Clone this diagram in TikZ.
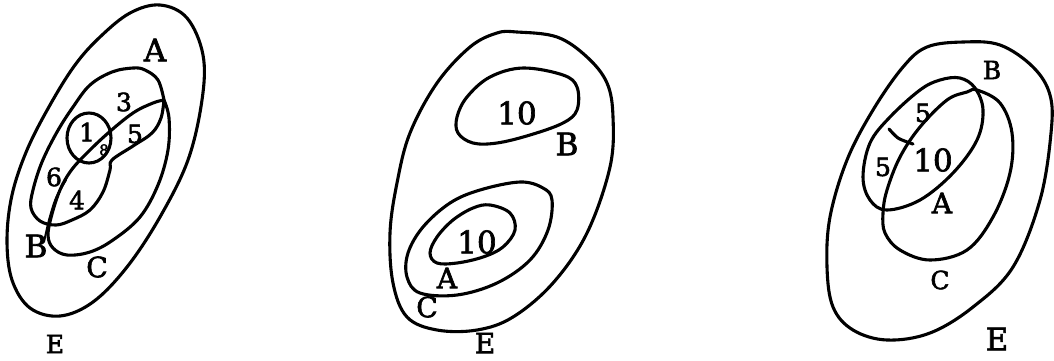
\documentclass[tikz,border=0pt]{standalone}
\usepackage{fontspec}
\setmainfont{DejaVu Serif}[FakeBold=2.2]
\begin{document}
\begin{tikzpicture}[x=1pt,y=-1pt,
  curve/.style={draw=black, line width=3.1pt, line join=round, line cap=round},
  thin/.style={draw=black, line width=2pt, line cap=round},
  lbig/.style={font=\fontsize{31}{31}\selectfont, inner sep=0pt},
  lmid/.style={font=\fontsize{28}{28}\selectfont, inner sep=0pt},
  lsml/.style={font=\fontsize{25}{25}\selectfont, inner sep=0pt}]
\useasboundingbox (0,0) rectangle (1054,360);

% ---------------- left diagram ----------------
\draw[curve] plot[smooth cycle, tension=0.6] coordinates {
  (160,5) (187,18) (203,55) (202,100) (188,160) (160,217) (127,267) (93,302)
  (60,316) (30,308) (12,280) (7,240) (12,195) (27,150) (50,105) (75,65) (100,37) (130,13)};
% A
\draw[curve] plot[smooth, tension=0.6] coordinates {
  (164,100) (158,80) (145,70) (133,68) (112,72) (90,85) (73,107) (57,132) (42,162)
  (33,190) (31,208) (40,221) (56,225) (72,220) (90,210) (103,192) (110,170) (112,160)
  (133,146) (152,133) (161,118) (164,100)};
% C
\draw[curve] plot[smooth, tension=0.6] coordinates {
  (164,100) (169,118) (168,150) (158,185) (140,217) (113,240) (90,252)
  (67,255) (53,248) (48,235) (52,214) (60,190) (70,172) (83,157) (107,134) (133,113)
  (153,103) (164,100)};
% circle
\draw[curve] (89,138) ellipse [x radius=22, y radius=25];
% double line
\draw[thin] plot[smooth] coordinates {(44,242) (49,220) (56,198) (66,180)};

\node[lbig] (lA) at (155,50) {A};
\node[lsml] (l3) at (124,102) {3};
\node[lsml] (l1) at (87,132) {1};
\node[lsml] (l5) at (135,134) {5};
\node[font=\fontsize{15}{15}\selectfont, inner sep=0pt] (l8) at (104,150) {8};
\node[lsml] (l6) at (54,177) {6};
\node[lsml] (l4) at (77,200) {4};
\node[lbig] (lB) at (36,246) {B};
\node[lmid] (lC) at (97,267) {C};
\node[lsml] (lE) at (55,344) {E};

% ---------------- middle diagram ----------------
\draw[curve] plot[smooth cycle, tension=0.6] coordinates {
  (517,32) (557,37) (587,57) (607,83) (613,117) (610,167) (587,233) (553,283)
  (513,317) (477,330) (437,330) (407,317) (393,283) (390,233) (397,183) (410,133)
  (437,83) (470,47) (497,33)};
% B
\draw[curve] plot[smooth cycle, tension=0.6] coordinates {
  (523,68) (563,75) (577,87) (577,110) (563,123) (530,135) (497,143) (473,143)
  (458,133) (457,117) (467,97) (490,77)};
% C
\draw[curve] plot[smooth cycle, tension=0.6] coordinates {
  (520,182) (543,188) (552,200) (548,230) (530,260) (497,283) (457,295) (420,293)
  (407,277) (408,253) (423,227) (450,203) (480,190)};
% A
\draw[curve] plot[smooth cycle, tension=0.6] coordinates {
  (490,205) (510,213) (515,230) (503,247) (483,257) (457,263) (437,263) (430,253)
  (437,237) (453,220) (473,208)};

\node[lbig] (m10a) at (517,113) {10};
\node[lbig] (mB) at (567,144) {B};
\node[lbig] (m10b) at (477,242) {10};
\node[lmid] (mA) at (447,278) {A};
\node[lmid] (mC) at (427,307) {C};
\node[lmid] (mE) at (485,343) {E};

% ---------------- right diagram ----------------
\draw[curve] plot[smooth cycle, tension=0.6] coordinates {
  (963,42) (1000,45) (1033,67) (1050,95) (1051,133) (1040,200) (1013,267) (973,307)
  (930,333) (887,340) (853,330) (833,307) (827,267) (830,217) (847,160) (873,110)
  (903,67) (927,47)};
% tilted ellipse
\draw[curve] plot[smooth cycle, tension=0.6] coordinates {
  (960,78) (975,88) (983,110) (977,140) (953,173) (920,200) (887,210) (870,200)
  (863,177) (870,143) (890,117) (920,90) (940,80)};
% round ellipse
\draw[curve] plot[smooth cycle, tension=0.6] coordinates {
  (977,90) (1000,103) (1012,133) (1010,173) (993,217) (967,250) (930,260) (900,250)
  (885,233) (883,213) (887,190) (900,157) (920,127) (947,100) (967,92)};
% separating arc
\draw[curve] plot[smooth] coordinates {(889,129) (898,138) (910,143) (913,144)};

\node[lsml] (rB) at (992,70) {B};
\node[lsml] (r5a) at (923,113) {5};
\node[lsml] (r5b) at (883,167) {5};
\node[lbig] (r10) at (933,160) {10};
\node[lmid] (rA) at (942,203) {A};
\node[lsml] (rC) at (940,280) {C};
\node[lbig] (rE) at (997,339) {E};
\end{tikzpicture}
\end{document}
